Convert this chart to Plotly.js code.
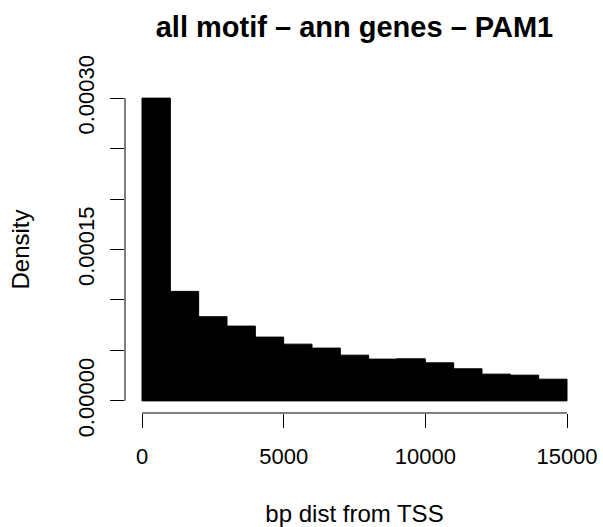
<!DOCTYPE html>
<html>
<head>
<meta charset="utf-8">
<script src="https://cdn.plot.ly/plotly-3.0.1.min.js"></script>
<style>html,body{margin:0;padding:0;background:#fff;}#chart{width:603px;height:527px;}</style>
</head>
<body>
<div id="chart"></div>
<script>
// Histogram bins (bp distance from TSS) and density per bin
const binStarts = [0, 1000, 2000, 3000, 4000, 5000, 6000, 7000, 8000, 9000, 10000, 11000, 12000, 13000, 14000];
const binWidth = 1000;
const densities = [0.000300, 0.0001085, 0.0000834, 0.0000741, 0.0000632, 0.0000562, 0.0000523, 0.0000453, 0.0000414, 0.0000417, 0.0000377, 0.0000318, 0.0000265, 0.0000255, 0.0000215];

const xTickVals = [0, 5000, 10000, 15000];
const xTickText = ["0", "5000", "10000", "15000"];
const yTickVals = [0, 0.00005, 0.0001, 0.00015, 0.0002, 0.00025, 0.0003];
const yTickText = ["0.00000", "", "", "0.00015", "", "", "0.00030"];

const titleText = "all motif \u2013 ann genes \u2013 PAM1";
const xLabel = "bp dist from TSS";
const yLabel = "Density";

const font = "Liberation Sans, Arial, Helvetica, sans-serif";

const trace = {
  type: "bar",
  x: binStarts.map(s => s + binWidth / 2),
  y: densities,
  width: binStarts.map(() => binWidth),
  marker: { color: "#000000", line: { color: "#000000", width: 1 } },
  hoverinfo: "skip"
};

const layout = {
  width: 603,
  height: 527,
  margin: { l: 125, r: 19, t: 86, b: 114 },
  paper_bgcolor: "#ffffff",
  plot_bgcolor: "#ffffff",
  showlegend: false,
  bargap: 0,
  font: { family: font, color: "#000000", size: 22 },
  title: {
    text: "<b>" + titleText + "</b>",
    font: { family: font, size: 29, color: "#000000" },
    x: 0.5 + (125 - 19) / 2 / 603,
    xanchor: "center",
    xref: "container",
    y: 1 - 27 / 527,
    yanchor: "middle",
    yref: "container"
  },
  xaxis: {
    range: [-600, 15600],
    tickmode: "array",
    tickvals: xTickVals,
    ticktext: xTickText,
    ticks: "outside",
    ticklen: 14,
    tickwidth: 1,
    tickcolor: "#000000",
    ticklabelstandoff: 10,
    showgrid: false,
    zeroline: false,
    showline: false,
    tickfont: { family: font, size: 22, color: "#000000" },
    title: { text: xLabel, font: { family: font, size: 24, color: "#000000" }, standoff: 38 }
  },
  yaxis: {
    range: [-0.000012, 0.000312],
    tickmode: "array",
    tickvals: yTickVals,
    ticktext: yTickText,
    tickangle: -90,
    ticks: "outside",
    ticklen: 14,
    tickwidth: 1,
    tickcolor: "#000000",
    ticklabelstandoff: 7,
    showgrid: false,
    zeroline: false,
    showline: false,
    tickfont: { family: font, size: 22, color: "#000000" },
    title: { text: yLabel, font: { family: font, size: 24, color: "#000000" }, standoff: 37 }
  },
  shapes: [
    { type: "line", xref: "x", yref: "paper", x0: xTickVals[0], x1: xTickVals[xTickVals.length - 1], y0: 0, y1: 0, line: { color: "#000000", width: 1 } },
    { type: "line", xref: "paper", yref: "y", x0: 0, x1: 0, y0: yTickVals[0], y1: yTickVals[yTickVals.length - 1], line: { color: "#000000", width: 1 } }
  ]
};

Plotly.newPlot("chart", [trace], layout, { staticPlot: true, displayModeBar: false });
</script>
</body>
</html>
